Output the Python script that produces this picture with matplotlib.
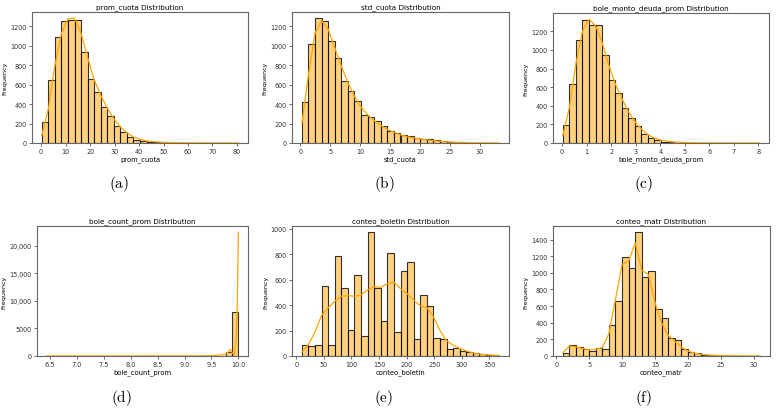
import numpy as np
import matplotlib
matplotlib.use("Agg")
import matplotlib.pyplot as plt
from matplotlib.ticker import MultipleLocator, FuncFormatter

plt.rcParams["mathtext.fontset"] = "cm"

# --- values (30 bins each) ---
names = ["prom_cuota", "std_cuota", "bole_monto_deuda_prom",
         "bole_count_prom", "conteo_boletin", "conteo_matr"]
captions = ["a", "b", "c", "d", "e", "f"]

ranges = [(0.3, 80.5), (0.25, 33.2), (0.03, 8.03),
          (6.44, 10.0), (10.0, 368.0), (1.0, 31.0)]

counts_a = [215, 653, 1096, 1252, 1262, 1270, 940, 660, 525, 370, 283, 180,
            111, 60, 35, 20, 12, 8, 5, 4, 3, 2, 1, 1, 1, 1, 0, 1, 0, 1]
counts_b = [419, 1018, 1283, 1252, 1053, 871, 635, 538, 432, 288, 264, 223,
            172, 127, 100, 82, 69, 55, 45, 38, 28, 20, 15, 10, 7, 5, 3, 2, 1, 1]
counts_c = [192, 630, 1111, 1325, 1271, 1268, 940, 673, 534, 374, 264, 180,
            100, 55, 28, 15, 8, 5, 3, 2, 1, 1, 1, 0, 0, 0, 0, 0, 0, 1]
counts_d = [5, 0, 0, 0, 0, 0, 5, 0, 0, 0, 0, 0, 5, 0, 0, 0, 0, 10, 0, 0,
            0, 0, 15, 0, 0, 10, 20, 80, 650, 8050]
counts_e = [83, 75, 83, 547, 83, 790, 537, 207, 639, 157, 974, 534, 277, 809,
            188, 672, 738, 134, 476, 393, 144, 136, 57, 65, 42, 34, 21, 12, 8, 5]
counts_f = [36, 136, 108, 88, 60, 100, 88, 367, 660, 1188, 1060, 1488, 955,
            1024, 568, 456, 220, 195, 85, 50, 35, 12, 8, 5, 3, 2, 1, 1, 1, 1]

# kde curves (scaled to counts), read at the bin edges
kde_a = [80, 350, 800, 1130, 1280, 1285, 1130, 880, 650, 490, 360, 250, 165,
         105, 62, 38, 22, 14, 9, 6, 4, 3, 2, 1.5, 1, 1, 0.8, 0.5, 0.5, 0.3, 0.2]
kde_b = [200, 700, 1130, 1260, 1170, 980, 790, 620, 480, 370, 290, 230, 180,
         140, 110, 85, 65, 52, 42, 32, 24, 17, 12, 8, 5, 3, 2, 1.5, 1, 0.5, 0.3]
kde_c = [80, 380, 850, 1200, 1330, 1260, 1080, 840, 640, 480, 340, 230, 150,
         90, 52, 30, 18, 11, 7, 4, 3, 2, 1, 1, 0.5, 0.5, 0.3, 0.2, 0.2, 0.1, 0.1]
kde_d_x = [6.44, 7.0, 7.5, 8.0, 8.5, 8.7, 9.0, 9.4, 9.6, 9.75, 9.82, 9.85,
           9.88, 9.92, 9.96, 9.98, 10.0]
kde_d = [5, 5, 5, 5, 10, 20, 10, 40, 120, 300, 800, 1200, 700, 200, 3000,
         10000, 22500]
kde_e = [30, 90, 190, 320, 380, 430, 470, 475, 470, 480, 520, 545, 540, 570,
         580, 530, 490, 440, 395, 380, 310, 200, 120, 85, 60, 40, 25, 15, 10, 6, 3]
kde_f = [40, 120, 110, 90, 75, 80, 100, 270, 680, 1100, 1140, 1360, 1030, 980,
         650, 400, 250, 180, 110, 60, 35, 20, 12, 8, 6, 4, 3, 2, 1, 1, 0.5]

counts = [counts_a, counts_b, counts_c, counts_d, counts_e, counts_f]
kdes = [kde_a, kde_b, kde_c, kde_d, kde_e, kde_f]

xticks_step = [10, 5, 1, 0.5, 50, 5]
yticks_step = [200, 200, 200, 5000, 200, 200]

# axes boxes in pixels: left, top, right, bottom
W, H = 776, 410
boxes = [(32, 13, 248, 144), (292, 13, 509, 144), (553, 14, 769, 144),
         (37, 227, 248, 357), (292, 227, 509, 357), (553, 227, 770, 357)]
cap_pos = [(119, 184), (384, 184), (644, 184),
           (121, 398), (384, 398), (644, 398)]


def fmt_y(v, pos):
    v = int(round(v))
    return f"{v:,}" if v >= 10000 else f"{v}"


fig = plt.figure(figsize=(W / 100, H / 100), dpi=100)

for i in range(6):
    l, t, r, b = boxes[i]
    ax = fig.add_axes([l / W, 1 - b / H, (r - l) / W, (b - t) / H])
    lo, hi = ranges[i]
    edges = np.linspace(lo, hi, len(counts[i]) + 1)
    ax.bar(edges[:-1], counts[i], width=np.diff(edges), align="edge",
           facecolor=(1.0, 0.647, 0.0, 0.5), edgecolor=(0, 0, 0, 0.8),
           linewidth=0.8)
    kx = kde_d_x if i == 3 else edges
    ax.plot(kx, kdes[i], color="orange", lw=0.9)

    ax.set_title(f"{names[i]} Distribution", fontsize=5.2, pad=3)
    ax.set_xlabel(names[i], fontsize=4.9, labelpad=1)
    ax.set_ylabel("Frequency", fontsize=4.6, labelpad=2)
    ax.xaxis.set_major_locator(MultipleLocator(xticks_step[i]))
    ax.yaxis.set_major_locator(MultipleLocator(yticks_step[i]))
    ax.yaxis.set_major_formatter(FuncFormatter(fmt_y))
    ax.tick_params(labelsize=4.7, length=2.2, width=0.5, pad=1.5,
                   colors="#333333")
    for sp in ax.spines.values():
        sp.set_color("#666666")
        sp.set_linewidth(0.8)

    cx, cy = cap_pos[i]
    fig.text(cx / W, 1 - cy / H, rf"$(\mathrm{{{captions[i]}}})$",
             fontsize=11, ha="center", va="center")

fig.savefig("out.png", dpi=100)
